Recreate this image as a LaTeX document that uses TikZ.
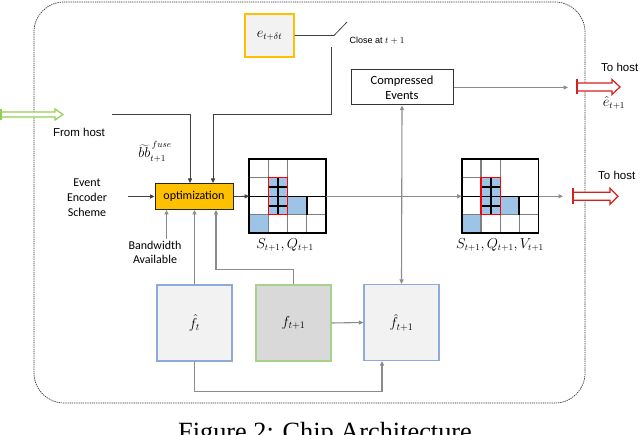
\documentclass[tikz,border=0pt]{standalone}
\usepackage{fontspec}
\setmainfont{Carlito}
\newfontfamily\arialf{Liberation Sans}
\newfontfamily\timesf{Liberation Serif}
\usetikzlibrary{arrows.meta,calc}
\definecolor{optor}{HTML}{FFC000}
\definecolor{boxg}{HTML}{F2F2F2}
\definecolor{boxd}{HTML}{D9D9D9}
\definecolor{bluebd}{HTML}{8EAADB}
\definecolor{greenbd}{HTML}{A9D18E}
\definecolor{cellblue}{HTML}{9DC3E6}
\definecolor{arrgreen}{HTML}{92D050}
\definecolor{arrred}{HTML}{D42020}
\definecolor{lngray}{HTML}{8C8C8C}
\definecolor{gridgray}{HTML}{7F7F7F}

% hollow block arrow: #1 tail coordinate, #2 length, #3 half body, #4 half head, #5 colour
\newcommand\myharrow[5]{%
  \draw[#5, line width=1.2pt, fill=white, line join=miter]
    (#1) ++(0,-#3) -- ++({#2-8},0) -- ++(0,{#3-#4}) -- ++(8,#4) -- ++(-8,#4)
    -- ++(0,{#3-#4}) -- ++({8-#2},0) -- cycle;
  \draw[#5, line width=2.2pt] (#1) ++(0,-#4) -- ++(0,{2*#4});
}
% quad-tree grid drawn inside the node #1
\newcommand\mygrid[1]{%
  \begin{scope}[shift={(#1.north west)}]
    \fill[cellblue] (19.2,18.5) rectangle (38.4,55.5);
    \fill[cellblue] (38.4,37) rectangle (57.6,55.5);
    \fill[cellblue] (0,55.5) rectangle (19.2,74);
    \draw[gridgray, line width=1.2pt] (19.2,0) -- (19.2,74) (38.4,0) -- (38.4,74)
      (57.6,55.5) -- (57.6,74) (0,18.5) -- (38.4,18.5) (0,55.5) -- (76.8,55.5);
    \draw[black, line width=1.2pt] (0,37) -- (76.8,37);
    \draw[black, line width=2pt] (57.6,37) -- (57.6,55.5);
    \draw[black, line width=2pt] (28.8,18.5) -- (28.8,55.5)
      (19.2,27.75) -- (38.4,27.75) (19.2,46.25) -- (38.4,46.25);
    \draw[red, line width=1.2pt] (19.2,18.5) rectangle (38.4,55.5);
    \draw[black, line width=1.8pt] (0,0) rectangle (76.8,74);
  \end{scope}
}

\begin{document}
\begin{tikzpicture}[x=1pt,y=-1pt,
  >={Triangle[length=4.5pt,width=4pt]},
  lbl/.style={font=\fontsize{12}{14}\selectfont, inner sep=0pt},
  albl/.style={font=\arialf\fontsize{11.5}{13}\selectfont, inner sep=0pt},
  mlbl/.style={font=\fontsize{13.5}{15}\selectfont, inner sep=0pt},
  conn/.style={draw=black!75, line width=0.8pt},
  conng/.style={draw=lngray, line width=1.1pt},
  boxe/.style={draw=optor, fill=boxg, line width=1.1pt, minimum width=49pt, minimum height=43pt, inner sep=0pt, font=\fontsize{13.5}{15}\selectfont},
  boxopt/.style={draw=black!85, fill=optor, line width=1pt, minimum width=78pt, minimum height=26pt, inner sep=0pt, font=\fontsize{12}{14}\selectfont},
  boxce/.style={draw=black!80, fill=white, line width=1pt, minimum width=102pt, minimum height=35pt, inner sep=0pt, align=center, font=\fontsize{12.5}{15}\selectfont},
  boxfh/.style={draw=bluebd, fill=boxg, line width=1.2pt, minimum width=75pt, minimum height=76pt, inner sep=0pt, font=\fontsize{14.5}{16}\selectfont},
  boxfn/.style={draw=greenbd, fill=boxd, line width=1.2pt, minimum width=75pt, minimum height=76pt, inner sep=0pt, font=\fontsize{14.5}{16}\selectfont},
  gridnode/.style={minimum width=76.8pt, minimum height=74pt, inner sep=0pt, outer sep=0pt},
  outer/.style={draw=black!80, line width=0.7pt, dash pattern=on 1.3pt off 0.9pt, rounded corners=30pt}]
\useasboundingbox (0,0) rectangle (640,435);

% outer chip frame
\draw[outer] (34,2) rectangle (585,403);

% nodes
\node[boxe] (ebox) at (269.5,35.5) {$e_{t+\delta t}$};
\node[boxopt] (opt) at (194,196.5) {optimization};
\node[boxce] (ce) at (402,87.5) {Compressed\\Events};
\node[boxfh] (fhat) at (194.5,323) {$\hat{f}_t$};
\node[boxfn] (fnext) at (293.5,323) {$f_{t+1}$};
\node[boxfh] (fhatn) at (401.5,322.5) {$\hat{f}_{t+1}$};
\node[gridnode] (g1) at (287.6,196.3) {};
\node[gridnode] (g2) at (500.1,196.3) {};
\mygrid{g1}
\mygrid{g2}

% labels
\node[albl] (fromhost) at (79,132) {From host};
\node[mlbl] (bbfuse) at (155,152) {$\widetilde{bb}^{\,fuse}_{t+1}$};
\node[lbl, align=center, font=\fontsize{12}{15}\selectfont] (ees) at (87,198) {Event\\Encoder\\Scheme};
\node[lbl, align=center, font=\fontsize{12}{14}\selectfont] (bw) at (155,252) {Bandwidth\\Available};
\node[inner sep=0pt, font=\arialf\fontsize{9}{10}\selectfont] (close) at (377,41) {Close at $t+1$};
\node[albl, anchor=west] (tohost1) at (601,67) {To host};
\node[mlbl] (ehat) at (614,103) {$\hat{e}_{t+1}$};
\node[albl, anchor=west] (tohost2) at (598,175.5) {To host};
\node[mlbl] (s1) at (285,245) {$S_{t+1}, Q_{t+1}$};
\node[mlbl] (s2) at (500,245) {$S_{t+1}, Q_{t+1}, V_{t+1}$};
\node[anchor=base west, inner sep=0pt, font=\timesf\fontsize{26.3}{30}\selectfont] (cap) at (178,441) {Figure 2: Chip Architecture};

% free ends
\coordinate (ga) at (1,114.5);
\coordinate (fh) at (112,114);
\coordinate (sw1) at (334,35.5);
\coordinate (sw2) at (347,22);
\coordinate (sw3) at (331,47);
\coordinate (eesout) at (128,196.5);
\coordinate (r1) at (568,87.5);
\coordinate (r1t) at (577,87);
\coordinate (r2) at (563,196.3);
\coordinate (r2t) at (573,196.3);

% hollow host arrows
\myharrow{ga}{62}{2.5}{5.5}{arrgreen}
\myharrow{r1t}{43}{4}{7.5}{arrred}
\myharrow{r2t}{45}{4}{8}{arrred}

% connectors
\draw[conn,->] (fh) -| ([xshift=-4pt]opt.north);
\draw[conn] (ebox.east) -- (sw1) -- (sw2);
\draw[conn,->] (sw3) -- (sw3 |- fh) -| ([xshift=19pt]opt.north);
\draw[conn,->] (eesout) -- (opt.west);
\draw[conng,->] ([xshift=-27.5pt]opt.south |- bw.north) ++(0,-2) -- ([xshift=-27.5pt]opt.south);
\draw[conng,->] (fhat.north) -- (fhat.north |- opt.south);
\draw[conng,->] (fnext.north) -- ++(0,-15) -| ([xshift=22pt]opt.south);
\draw[conn,->] (opt.east) -- (g1.west);
\draw[conng,->] (g1.east) -- (g2.west);
\draw[conng,->] (g2.east) -- (r2);
\draw[conng,->] (ce.east) -- (r1);
\draw[conng,<->] (ce.south) -- (fhatn.north);
\draw[conng,->] (fnext.east) -- (fhatn.west);
\draw[conng,->] (fhat.south) -- ++(0,30) -| ([xshift=-19.5pt]fhatn.south);
\end{tikzpicture}
\end{document}
